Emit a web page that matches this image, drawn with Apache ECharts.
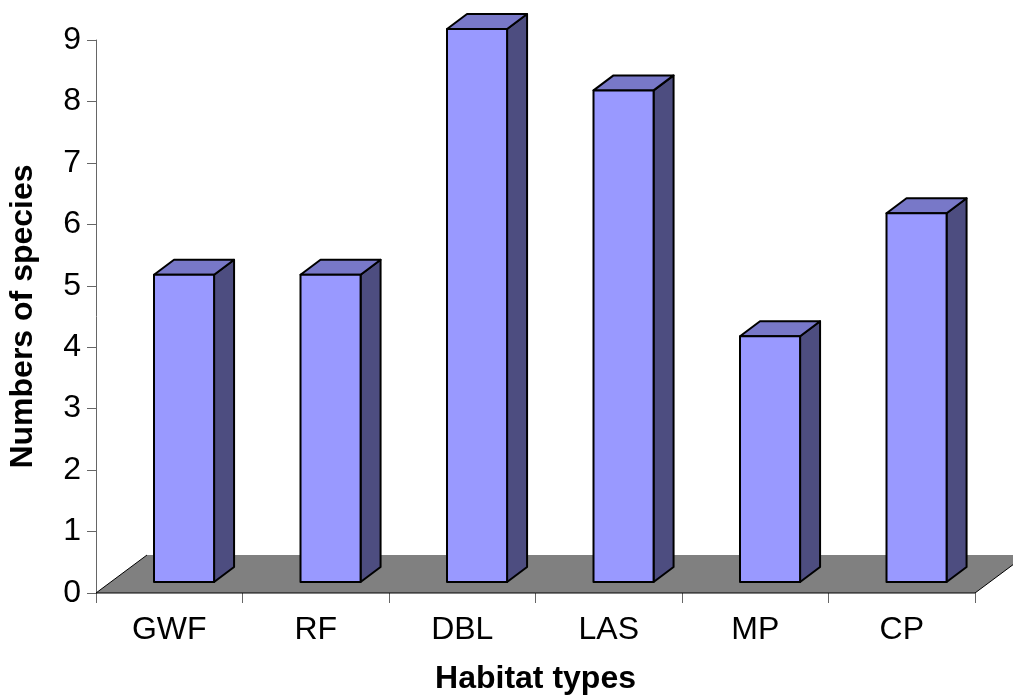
<!DOCTYPE html>
<html>
<head>
<meta charset="utf-8">
<title>Numbers of species by habitat type</title>
<script src="https://cdn.jsdelivr.net/npm/echarts@6/dist/echarts.min.js"></script>
<style>
  html, body { margin: 0; padding: 0; background: #ffffff; }
  #chart { width: 1013px; height: 698px; }
</style>
</head>
<body>
<div id="chart"></div>
<script>
// Habitat categories and number of species recorded in each
const habitats = ['GWF', 'RF', 'DBL', 'LAS', 'MP', 'CP'];
const speciesCounts = [5, 5, 9, 8, 4, 6];
const yTicks = { min: 0, max: 9, interval: 1 };

const FONT = '"Liberation Sans", Arial, sans-serif';

// Oblique projection used for the pseudo-3D look
const FLOOR_DEPTH = [51, -38];   // full depth of the floor
const BAR_FRONT = 0.29;          // bar front sits this far into the floor depth
const BAR_DEPTH = [20, -15];     // depth of each column
const BAR_WIDTH = 0.41;          // share of a category band
const COLORS = { front: '#9999FF', top: '#7878C8', side: '#4D4D80', floor: '#808080' };

function renderFloor(params, api) {
  const cs = params.coordSys;
  const x0 = cs.x, x1 = cs.x + cs.width, y0 = cs.y + cs.height;
  const [dx, dy] = FLOOR_DEPTH;
  return {
    type: 'group',
    children: [
      {
        type: 'polygon',
        shape: { points: [[x0, y0], [x1, y0], [x1 + dx, y0 + dy], [x0 + dx, y0 + dy]] },
        style: { fill: COLORS.floor, stroke: null }
      },
      {
        type: 'polyline',
        shape: { points: [[x0 + dx, y0 + dy], [x0, y0], [x1, y0], [x1 + dx, y0 + dy]] },
        style: { fill: null, stroke: '#000', lineWidth: 1 }
      }
    ]
  };
}

function renderBar(params, api) {
  const idx = api.value(0);
  const val = api.value(1);
  const base = api.coord([idx, 0]);
  const top = api.coord([idx, val]);
  const band = api.size([1, 0])[0];
  const w = band * BAR_WIDTH;
  const sx = FLOOR_DEPTH[0] * BAR_FRONT, sy = FLOOR_DEPTH[1] * BAR_FRONT;
  const [dx, dy] = BAR_DEPTH;
  const l = base[0] - w / 2 + sx;
  const r = l + w;
  const b = base[1] + sy;
  const t = top[1] + sy;
  const line = { stroke: '#000', lineWidth: 2, lineJoin: 'round' };
  return {
    type: 'group',
    children: [
      {
        type: 'polygon',
        shape: { points: [[r, b], [r + dx, b + dy], [r + dx, t + dy], [r, t]] },
        style: Object.assign({ fill: COLORS.side }, line)
      },
      {
        type: 'polygon',
        shape: { points: [[l, t], [r, t], [r + dx, t + dy], [l + dx, t + dy]] },
        style: Object.assign({ fill: COLORS.top }, line)
      },
      {
        type: 'rect',
        shape: { x: l, y: t, width: w, height: b - t },
        style: Object.assign({ fill: COLORS.front }, line)
      }
    ]
  };
}

const chart = echarts.init(document.getElementById('chart'), null, { renderer: 'canvas' });

chart.setOption({
  backgroundColor: '#ffffff',
  animation: false,
  grid: { left: 96, right: 38, top: 40, bottom: 105, containLabel: false, outerBoundsMode: 'none' },
  xAxis: {
    type: 'category',
    data: habitats,
    boundaryGap: true,
    name: 'Habitat types',
    nameLocation: 'middle',
    nameGap: 70,
    nameTextStyle: { fontFamily: FONT, fontSize: 32, fontWeight: 'bold', color: '#000' },
    axisLine: { show: false },
    axisTick: { show: true, length: 10, alignWithLabel: false, lineStyle: { color: '#666', width: 1 } },
    axisLabel: { fontFamily: FONT, fontSize: 32, color: '#000', margin: 21 },
    splitLine: { show: false }
  },
  yAxis: {
    type: 'value',
    min: yTicks.min,
    max: yTicks.max,
    interval: yTicks.interval,
    name: 'Numbers of species',
    nameLocation: 'middle',
    nameRotate: 90,
    nameGap: 57,
    nameTextStyle: { fontFamily: FONT, fontSize: 32, fontWeight: 'bold', color: '#000' },
    axisLine: { show: true, lineStyle: { color: '#666', width: 1 } },
    axisTick: { show: true, length: 9, lineStyle: { color: '#666', width: 1 } },
    axisLabel: { fontFamily: FONT, fontSize: 32, color: '#000', margin: 15 },
    splitLine: { show: false }
  },
  series: [
    {
      type: 'custom',
      name: 'floor',
      data: [[0, 0]],
      renderItem: renderFloor,
      clip: false,
      silent: true,
      z: 1
    },
    {
      type: 'custom',
      name: 'species',
      data: speciesCounts.map((v, i) => [i, v]),
      encode: { x: 0, y: 1 },
      renderItem: renderBar,
      clip: false,
      z: 2
    }
  ]
});
</script>
</body>
</html>
